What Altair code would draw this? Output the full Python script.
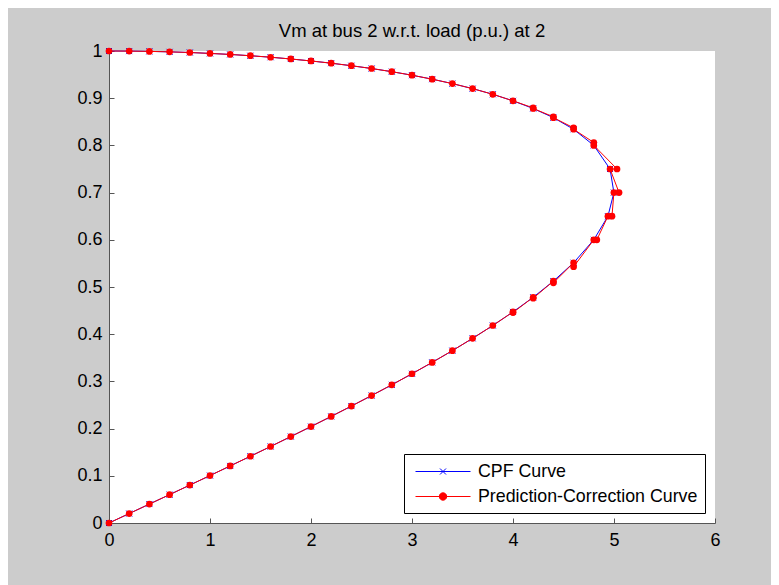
import altair as alt
import pandas as pd

series_names = ["CPF Curve", "Prediction-Correction Curve"]

# CPF curve (corrected points)
cpf_p = [0.0, 0.2, 0.4, 0.6, 0.8, 1.0, 1.2, 1.4, 1.6, 1.8, 2.0, 2.2, 2.4, 2.6, 2.8,
         3.0, 3.2, 3.4, 3.6, 3.8, 4.0, 4.2, 4.4, 4.6, 4.8,
         4.961, 4.999, 4.940, 4.8,
         4.6, 4.4, 4.2, 4.0, 3.8, 3.6, 3.4, 3.2, 3.0, 2.8, 2.6, 2.4, 2.2, 2.0,
         1.8, 1.6, 1.4, 1.2, 1.0, 0.8, 0.6, 0.4, 0.2, 0.0]
cpf_v = [1.0, 0.9998, 0.9992, 0.9982, 0.9968, 0.9949, 0.9927, 0.9900, 0.9868, 0.9831,
         0.9789, 0.9742, 0.9688, 0.9629, 0.9562, 0.9487, 0.9403, 0.9309, 0.9203, 0.9083,
         0.8944, 0.8782, 0.8588, 0.8342, 0.8000,
         0.75, 0.70, 0.65, 0.60,
         0.5514, 0.5124, 0.4782, 0.4472, 0.4184, 0.3912, 0.3652, 0.3403, 0.3162, 0.2928,
         0.2700, 0.2477, 0.2258, 0.2043, 0.1831, 0.1621, 0.1414, 0.1209, 0.1005, 0.0803,
         0.0601, 0.0401, 0.0200, 0.0]

# Prediction-Correction curve (predicted + corrected points)
pc_p = [0.0, 0.2, 0.4, 0.6, 0.8, 1.0, 1.2, 1.4, 1.6, 1.8, 2.0, 2.2, 2.4, 2.6, 2.8,
        3.0, 3.2, 3.4, 3.6, 3.8, 4.0,
        4.2, 4.2, 4.4, 4.4, 4.6, 4.6, 4.8, 4.8,
        5.03, 4.961, 5.05, 4.999, 4.98, 4.940, 4.83, 4.8,
        4.6, 4.6, 4.4, 4.4, 4.2, 4.2, 4.0, 4.0,
        3.8, 3.6, 3.4, 3.2, 3.0, 2.8, 2.6, 2.4, 2.2, 2.0,
        1.8, 1.6, 1.4, 1.2, 1.0, 0.8, 0.6, 0.4, 0.2, 0.0]
pc_v = [1.0, 0.9998, 0.9992, 0.9982, 0.9968, 0.9949, 0.9927, 0.9900, 0.9868, 0.9831,
        0.9789, 0.9742, 0.9688, 0.9629, 0.9562, 0.9487, 0.9403, 0.9309, 0.9203, 0.9083,
        0.8944,
        0.8795, 0.8782, 0.8606, 0.8588, 0.8372, 0.8342, 0.8061, 0.8000,
        0.75, 0.75, 0.70, 0.70, 0.65, 0.65, 0.60, 0.60,
        0.5429, 0.5514, 0.5088, 0.5124, 0.4762, 0.4782, 0.4459, 0.4472,
        0.4184, 0.3912, 0.3652, 0.3403, 0.3162, 0.2928,
        0.2700, 0.2477, 0.2258, 0.2043, 0.1831, 0.1621, 0.1414, 0.1209, 0.1005, 0.0803,
        0.0601, 0.0401, 0.0200, 0.0]

x_ticks = [0, 1, 2, 3, 4, 5, 6]
y_ticks = [0, 0.1, 0.2, 0.3, 0.4, 0.5, 0.6, 0.7, 0.8, 0.9, 1.0]
title_text = "Vm at bus 2 w.r.t. load (p.u.) at 2"

rows = []
for i, (p, v) in enumerate(zip(cpf_p, cpf_v)):
    rows.append({"series": series_names[0], "idx": i, "p": p, "v": v})
for i, (p, v) in enumerate(zip(pc_p, pc_v)):
    rows.append({"series": series_names[1], "idx": i, "p": p, "v": v})
df = pd.DataFrame(rows)

FONT = "Liberation Sans"
BLUE = "#0000ff"
RED = "#ff0000"
X_MARK = "M-1,-1L1,1M-1,1L1,-1"
LEG_CPF = "M-0.6,0H4.9M1.85,-0.3L2.45,0.3M1.85,0.3L2.45,-0.3"
LEG_PC = "M-0.6,0H4.9M2.52,0A0.37,0.37,0,1,1,1.78,0A0.37,0.37,0,1,1,2.52,0Z"

x_enc = alt.X("p:Q", scale=alt.Scale(domain=[0, 6], nice=False, zero=False),
              axis=alt.Axis(values=x_ticks, title=None, labelPadding=13, format="d",
                            labelFlush=False))
y_enc = alt.Y("v:Q", scale=alt.Scale(domain=[0, 1], nice=False),
              axis=alt.Axis(values=y_ticks, title=None, labelPadding=12, format="~g",
                            labelFlush=False))

base = alt.Chart(df)
cpf = base.transform_filter(alt.datum.series == series_names[0])
pc = base.transform_filter(alt.datum.series == series_names[1])

blue_line = cpf.mark_line(color=BLUE, strokeWidth=1).encode(x=x_enc, y=y_enc, order="idx:Q")
blue_pts = cpf.mark_point(shape=X_MARK, size=36, color=BLUE, strokeWidth=1,
                          filled=False, opacity=1).encode(x=x_enc, y=y_enc)
red_line = pc.mark_line(color=RED, strokeWidth=1).encode(x=x_enc, y=y_enc, order="idx:Q")
red_pts = pc.mark_point(shape="circle", size=45, filled=True, color=RED,
                        opacity=1).encode(x=x_enc, y=y_enc)

leg = alt.Legend(orient="none", legendX=295, legendY=403, title=None,
                 labelFontSize=17.8, labelFont=FONT, labelColor="black", labelLimit=0,
                 symbolSize=400, symbolStrokeWidth=1, symbolOpacity=1,
                 strokeColor="black", fillColor="white", padding=7,
                 rowPadding=5, labelOffset=46, cornerRadius=0)

legend_layer = base.mark_point(opacity=0, filled=False, strokeWidth=1).encode(
    x=x_enc, y=y_enc,
    color=alt.Color("series:N", scale=alt.Scale(domain=series_names, range=[BLUE, RED]), legend=leg),
    fill=alt.Fill("series:N", scale=alt.Scale(domain=series_names, range=[BLUE, RED]), legend=leg),
    shape=alt.Shape("series:N", scale=alt.Scale(domain=series_names, range=[LEG_CPF, LEG_PC]), legend=leg),
)

chart = alt.layer(blue_line, blue_pts, red_line, red_pts, legend_layer).properties(
    width=606, height=472,
    title=alt.TitleParams(title_text, fontSize=18.5, font=FONT, fontWeight="normal",
                          color="black", offset=1.5, anchor="middle"),
    autosize=alt.AutoSizeParams(type="none"),
    padding={"left": 101, "top": 43, "right": 56, "bottom": 62},
    background="#cccccc",
).configure_view(
    fill="white", stroke=None
).configure_axis(
    labelFont=FONT, labelFontSize=18, labelColor="black",
    domainColor="#555555", tickColor="#555555", domainWidth=1, tickWidth=1,
    tickSize=alt.ExprRef(expr="-5"), grid=False,
)

chart.save("out.html", embed_options={"renderer": "svg", "actions": False})
